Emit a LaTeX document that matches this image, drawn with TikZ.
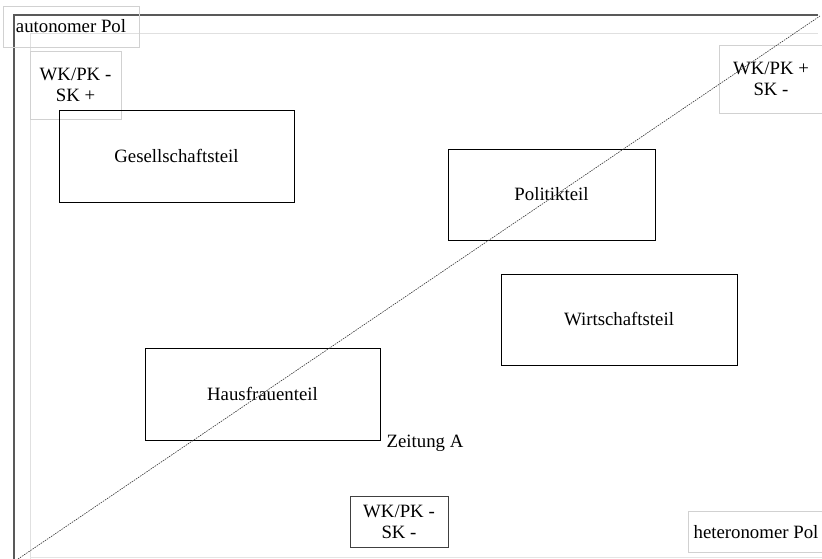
\documentclass[tikz,border=0pt]{standalone}
\usepackage{fontspec}
\setmainfont{Liberation Serif}
\begin{document}
\begin{tikzpicture}[x=1pt,y=-1pt,
    part/.style={draw=black, line width=0.8pt, minimum width=235pt, minimum height=92pt},
    pole/.style={draw=black!18, line width=0.8pt, inner sep=2pt, align=center},
    label/.style={font=\fontsize{18.8}{21}\selectfont}]

    % -- Fix the size of the page --
    \useasboundingbox (0,0) rectangle (822,559);

    % Define the frame lines
    \def\xleft{14}    % dark left edge of the frame
    \def\xinner{30}   % light inner margin
    \def\ytop{15}     % dark top edge of the frame
    \def\yinner{33}   % light inner margin
    \def\xmax{818}

    % -- Light inner margin lines --
    \draw[black!12, line width=0.8pt] (\xinner,559) -- (\xinner,\yinner) -- (\xmax,\yinner);
    \draw[black!10, line width=0.8pt] (\xinner,557) -- (822,557);

    % -- Dark frame (top and left) --
    \draw[black!65, line width=1.1pt] (\xleft,559) -- (\xleft,\ytop) -- (\xmax,\ytop);

    % -- Poles in the corners --
    \node[pole, label, minimum width=136pt, minimum height=41pt] (autonom) at (71,26.5) {autonomer Pol};
    \node[pole, label, minimum width=91pt, minimum height=68pt] (wkminusskplus) at (75.5,85) {WK/PK -\\SK +};
    \node[pole, label, minimum width=104pt, minimum height=68pt] (wkplusskminus) at (771,79) {WK/PK +\\SK -};
    \node[pole, label, minimum width=136pt, minimum height=41pt] (heteronom) at (756,532) {heteronomer Pol};

    % -- Sections of the newspaper --
    \node[part, label] (gesellschaft) at (176.5,156) {Gesellschaftsteil};
    \node[part, label, minimum width=207pt, minimum height=91pt] (politik) at (551.5,194.5) {Politikteil};
    \node[part, label, minimum width=236pt, minimum height=91pt] (wirtschaft) at (619,319.5) {Wirtschaftsteil};
    \node[part, label] (hausfrauen) at (262.5,394) {Hausfrauenteil};

    % -- Newspaper name and bottom pole --
    \node[label] (zeitung) at (425,443) {Zeitung A};
    \node[pole, label, draw=black!75, minimum width=98pt, minimum height=51pt] (wkminusskminus) at (399,521.5) {WK/PK -\\SK -};

    % -- Dashed diagonal from heteronomous to autonomous corner --
    \coordinate (diagstart) at (18,559);
    \coordinate (diagend) at (820,16);
    \draw[dash pattern=on 1.5pt off 1pt, black!80, line width=0.6pt] (diagstart) -- (diagend);

\end{tikzpicture}
\end{document}
